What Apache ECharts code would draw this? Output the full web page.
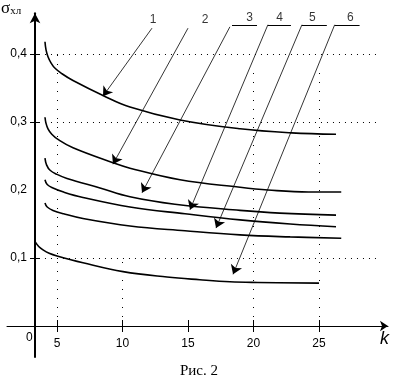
<!DOCTYPE html>
<html>
<head>
<meta charset="utf-8">
<script src="https://cdn.jsdelivr.net/npm/echarts@6/dist/echarts.min.js"></script>
<style>
  html, body { margin: 0; padding: 0; background: #fff; }
  #chart { width: 396px; height: 385px; }
</style>
</head>
<body>
<div id="chart"></div>
<script>
// curves: [k, sigma]
const curve1 = [[4.08, 0.418], [4.16, 0.406], [4.31, 0.396], [4.54, 0.387], [4.85, 0.379], [5.38, 0.371], [6.22, 0.361], [8.51, 0.339], [10.57, 0.322], [14.39, 0.303], [18.97, 0.290], [22.9, 0.284], [26.3, 0.282]];
const curve2 = [[4.08, 0.307], [4.16, 0.298], [4.31, 0.290], [4.6, 0.282], [5.1, 0.274], [6.22, 0.262], [9.27, 0.240], [10.57, 0.232], [14.39, 0.215], [18.97, 0.204], [21.1, 0.200], [24.2, 0.197], [26.7, 0.197]];
const curve3 = [[4.08, 0.247], [4.2, 0.237], [4.47, 0.229], [5.0, 0.223], [5.76, 0.217], [8.28, 0.203], [10.57, 0.190], [14.0, 0.179], [18.97, 0.170], [22.0, 0.166], [26.3, 0.163]];
const curve4 = [[4.08, 0.215], [4.25, 0.208], [4.69, 0.203], [5.5, 0.197], [6.98, 0.189], [10.57, 0.175], [14.77, 0.165], [18.97, 0.156], [22.8, 0.150], [26.3, 0.146]];
const curve5 = [[4.08, 0.181], [4.25, 0.175], [4.69, 0.170], [5.5, 0.165], [6.98, 0.158], [10.57, 0.147], [14.77, 0.140], [18.97, 0.134], [22.8, 0.131], [26.7, 0.129]];
const curve6 = [[3.32, 0.124], [3.6, 0.117], [3.93, 0.112], [4.4, 0.107], [5.0, 0.103], [6.98, 0.093], [10.04, 0.080], [13.4, 0.072], [15.9, 0.068], [18.2, 0.065], [20.3, 0.064], [25.0, 0.063]];

const xTicks = [5, 10, 15, 20, 25];
const yTicks = [0.1, 0.3, 0.4];
const yLabels = [0.1, 0.2, 0.3, 0.4];

// callout numbers, their leader lines and underlines
const curveNames = ["1", "2", "3", "4", "5", "6"];
const namePos = [[12.33, 0.45], [16.3, 0.45], [19.7, 0.453], [22.0, 0.453], [24.5, 0.453], [27.4, 0.453]];
const arrowFrom = [[12.25, 0.438], [15.0, 0.438], [18.2, 0.440], [21.1, 0.443], [23.7, 0.443], [26.2, 0.443]];
const arrowTo = [[8.51, 0.338], [9.27, 0.238], [11.49, 0.196], [15.15, 0.171], [17.14, 0.144], [18.44, 0.076]];
const underlines = [[18.36, 20.27], [21.1, 22.86], [23.7, 25.6], [26.2, 28.1]];
const underlineY = 0.443;

// dotted guide lines
const guideH = [[0.4, 4.08, 29.43], [0.3, 4.08, 29.43], [0.1, 4.08, 29.43]];
const guideV = [[5, 0, 0.4], [10, 0, 0.1], [20, 0, 0.38], [25, 0, 0.38]];

const xMin = 1.18, xMax = 30.27;
const yMin = 0, yMax = 0.46;

const black = "#000";
const sans = "Liberation Sans";
const serif = "Liberation Serif";

const chart = echarts.init(document.getElementById("chart"), null, { renderer: "canvas" });

const curveSeries = [curve1, curve2, curve3, curve4, curve5, curve6].map((d, i) => ({
  name: "curve" + (i + 1),
  type: "line",
  data: d,
  smooth: 0.4,
  showSymbol: false,
  symbol: "none",
  lineStyle: { color: black, width: 1.6 },
  z: 5,
}));

chart.setOption({
  animation: false,
  grid: [
    { left: 7, right: 8, top: 13.2, bottom: 59, containLabel: false },
    // strip under the k axis, only carries the lower end of the sigma axis
    { left: 7, right: 8, top: 326, bottom: 28, containLabel: false },
  ],
  xAxis: [
    {
      type: "value", gridIndex: 0, min: xMin, max: xMax, position: "bottom",
      axisLine: { onZero: false, lineStyle: { color: black, width: 1 }, symbol: ["none", "arrow"], symbolSize: [8, 8] },
      axisTick: { show: true, customValues: xTicks, length: 6, lineStyle: { color: black } },
      axisLabel: { customValues: xTicks, margin: 12, color: black, fontSize: 12, fontFamily: sans },
      splitLine: { show: false },
    },
    {
      type: "value", gridIndex: 0, min: xMin, max: xMax, position: "bottom",
      axisLine: { show: false, onZero: false },
      axisTick: { show: true, customValues: xTicks, inside: true, length: 6, lineStyle: { color: black } },
      axisLabel: { show: false },
      splitLine: { show: false },
    },
    { type: "value", gridIndex: 1, min: xMin, max: xMax, show: false },
  ],
  yAxis: [
    {
      type: "value", gridIndex: 0, min: yMin, max: yMax, position: "left", offset: -28,
      axisLine: { show: true, onZero: false, lineStyle: { color: black, width: 2 }, symbol: ["none", "arrow"], symbolSize: [8, 10] },
      axisTick: { show: true, customValues: yTicks, length: 5, lineStyle: { color: black } },
      axisLabel: {
        customValues: yLabels, margin: 8, color: black, fontSize: 12, fontFamily: sans,
        formatter: (v) => v.toFixed(1).replace(".", ","),
      },
      splitLine: { show: false },
    },
    {
      type: "value", gridIndex: 0, min: yMin, max: yMax, position: "left", offset: -28,
      axisLine: { show: false, onZero: false },
      axisTick: { show: true, customValues: yTicks, inside: true, length: 5, lineStyle: { color: black } },
      axisLabel: { show: false },
      splitLine: { show: false },
    },
    {
      type: "value", gridIndex: 1, min: 0, max: 1, position: "left", offset: -28,
      axisLine: { show: true, onZero: false, lineStyle: { color: black, width: 2 } },
      axisTick: { show: false },
      axisLabel: { show: false },
      splitLine: { show: false },
    },
  ],
  series: [
    {
      type: "line",
      data: [],
      silent: true,
      markLine: {
        silent: true,
        symbol: "none",
        label: { show: false },
        lineStyle: { color: black, width: 1, type: [1, 5] },
        data: [
          ...guideH.map(([v, a, b]) => [{ coord: [a, v] }, { coord: [b, v] }]),
          ...guideV.map(([k, a, b]) => [{ coord: [k, a], lineStyle: { type: [1, 8] } }, { coord: [k, b] }]),
        ],
      },
      z: 2,
    },
    {
      type: "line",
      data: [],
      silent: true,
      markLine: {
        silent: true,
        symbol: ["none", "arrow"],
        symbolSize: 9,
        label: { show: false },
        lineStyle: { color: black, width: 0.8, type: "solid" },
        itemStyle: { color: black },
        data: arrowFrom.map((p, i) => [{ coord: p }, { coord: arrowTo[i] }]),
      },
      z: 6,
    },
    {
      type: "line",
      data: [],
      silent: true,
      markLine: {
        silent: true,
        symbol: "none",
        label: { show: false },
        lineStyle: { color: black, width: 1, type: "solid" },
        data: underlines.map(([a, b]) => [{ coord: [a, underlineY] }, { coord: [b, underlineY] }]),
      },
      z: 6,
    },
    {
      type: "scatter",
      data: namePos.map((p, i) => [p[0], p[1], curveNames[i]]),
      symbolSize: 0,
      silent: true,
      label: {
        show: true, position: "inside", color: black, fontSize: 12, fontFamily: sans,
        formatter: (p) => p.data[2],
      },
      z: 6,
    },
    ...curveSeries,
  ],
  graphic: [
    {
      type: "text", left: 1, top: 0,
      style: {
        text: "{s|σ}{i|хл}",
        rich: {
          s: { fontSize: 17, fontFamily: serif, fill: black },
          i: { fontSize: 11, fontFamily: serif, fill: black, padding: [6, 0, 0, 0] },
        },
      },
    },
    { type: "text", left: 26, top: 332, style: { text: "0", fontSize: 12, fontFamily: sans, fill: black } },
    { type: "text", left: 380, top: 330, style: { text: "k", fontSize: 18, fontStyle: "italic", fontFamily: sans, fill: black } },
    { type: "text", left: 180, top: 364, style: { text: "Рис. 2", fontSize: 15, fontFamily: serif, fill: black } },
  ],
});
</script>
</body>
</html>
